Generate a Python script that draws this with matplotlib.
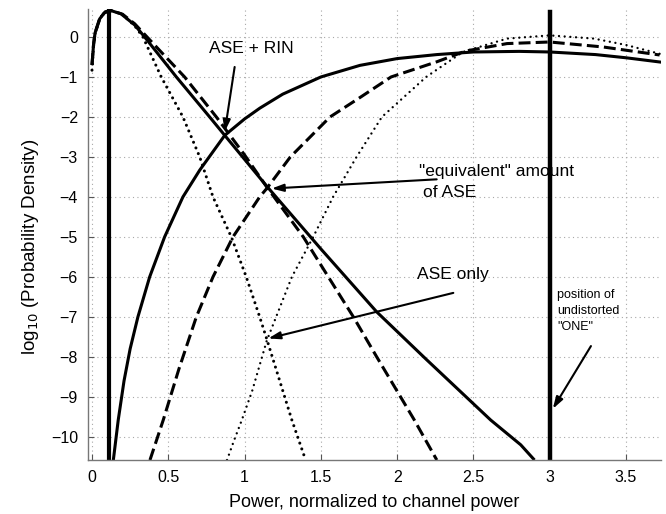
import matplotlib
matplotlib.use('Agg')
import matplotlib.pyplot as plt

plt.rcParams['font.family'] = ['Liberation Sans', 'DejaVu Sans']

# zero level ("0" symbol) curves
zero_rin_x = [0.0, 0.01, 0.02, 0.05, 0.08, 0.116, 0.19, 0.28, 0.345, 0.553, 0.771, 0.87,
              1.145, 1.5, 1.866, 2.19, 2.613, 2.81, 2.90]
zero_rin_y = [-0.7, -0.2, 0.1, 0.45, 0.6, 0.67, 0.58, 0.3, 0.0, -1.0, -2.0, -2.46,
              -3.73, -5.3, -6.875, -8.06, -9.58, -10.2, -10.58]

zero_eq_x = [0.0, 0.01, 0.02, 0.05, 0.08, 0.116, 0.2, 0.28, 0.356, 0.607, 0.815, 1.0,
             1.145, 1.385, 1.549, 1.713, 1.866, 2.108, 2.26]
zero_eq_y = [-0.7, -0.2, 0.1, 0.45, 0.6, 0.67, 0.57, 0.33, 0.02, -1.0, -2.0, -2.95,
             -3.75, -5.0, -6.0, -7.0, -8.0, -9.55, -10.58]

zero_ase_x = [0.0, 0.01, 0.02, 0.05, 0.08, 0.116, 0.2, 0.28, 0.334, 0.454, 0.596, 0.706,
              0.793, 0.913, 1.011, 1.099, 1.145, 1.31, 1.40]
zero_ase_y = [-0.83, -0.25, 0.08, 0.45, 0.62, 0.68, 0.56, 0.28, 0.0, -1.0, -2.0, -3.0,
              -4.0, -5.0, -6.0, -7.0, -7.55, -9.58, -10.58]

# one level ("1" symbol) curves
one_rin_x = [0.14, 0.172, 0.21, 0.25, 0.301, 0.378, 0.476, 0.596, 0.706, 0.87, 1.0, 1.1,
             1.25, 1.5, 1.756, 2.0, 2.26, 2.5, 2.8, 3.0, 3.3, 3.5, 3.72]
one_rin_y = [-10.58, -9.58, -8.6, -7.8, -7.0, -6.0, -5.0, -4.0, -3.33, -2.46, -2.05, -1.78,
             -1.43, -1.0, -0.71, -0.54, -0.44, -0.375, -0.36, -0.375, -0.44, -0.52, -0.625]

one_eq_x = [0.38, 0.467, 0.57, 0.684, 0.793, 0.924, 1.099, 1.145, 1.3, 1.56, 1.75, 1.96,
            2.26, 2.45, 2.72, 3.0, 3.35, 3.72]
one_eq_y = [-10.58, -9.58, -8.3, -7.0, -6.0, -5.0, -4.0, -3.79, -3.0, -2.0, -1.53, -1.0,
            -0.62, -0.35, -0.165, -0.125, -0.25, -0.45]

one_ase_x = [0.885, 0.93, 0.98, 1.05, 1.145, 1.31, 1.45, 1.58, 1.734, 1.9, 2.19, 2.43,
             2.72, 3.0, 3.29, 3.5, 3.72]
one_ase_y = [-10.58, -10.1, -9.6, -8.85, -7.6, -6.0, -5.0, -4.0, -3.0, -2.0, -1.0, -0.375,
             -0.04, 0.04, -0.04, -0.2, -0.42]

zero_pos = 0.113
one_pos = 3.0

xticks = [0, 0.5, 1, 1.5, 2, 2.5, 3, 3.5]
xtick_labels = ['0', '0.5', '1', '1.5', '2', '2.5', '3', '3.5']
yticks = list(range(-10, 1))

fig = plt.figure(figsize=(6.66, 5.14), dpi=100)
ax = fig.add_axes([0.1317, 0.105, 0.8603, 0.8775])

lw = 2.2
dash = (0, (3.9, 1.7))
dots = (0, (0.01, 2.0))

ax.plot(zero_rin_x, zero_rin_y, color='black', lw=lw, solid_capstyle='butt')
ax.plot(zero_eq_x, zero_eq_y, color='black', lw=lw, linestyle=dash)
ax.plot(zero_ase_x, zero_ase_y, color='black', lw=lw, linestyle=dots, dash_capstyle='round')

ax.plot(one_rin_x, one_rin_y, color='black', lw=lw)
ax.plot(one_eq_x, one_eq_y, color='black', lw=lw, linestyle=dash)
ax.plot(one_ase_x, one_ase_y, color='black', lw=1.7, linestyle=(0, (0.01, 2.4)),
        dash_capstyle='round')

# undistorted levels
ax.plot([zero_pos, zero_pos], [-10.7, 0.67], color='black', lw=3)
ax.plot([one_pos, one_pos], [-10.58, 0.625], color='black', lw=3.2)

ax.set_xlim(-0.028, 3.727)
ax.set_ylim(-10.58, 0.7)
ax.set_xticks(xticks)
ax.set_xticklabels(xtick_labels)
ax.set_yticks(yticks)

ax.grid(True, color='#a8a8a8', linestyle=(0, (1, 3)), lw=0.8)
ax.set_axisbelow(True)
ax.tick_params(direction='in', length=4, width=0.8, color='#555555', labelsize=11.5, pad=7)
for side in ['top', 'right']:
    ax.spines[side].set_visible(False)
for side in ['left', 'bottom']:
    ax.spines[side].set_color('#777777')
    ax.spines[side].set_linewidth(1.0)

ax.set_xlabel('Power, normalized to channel power', fontsize=13, labelpad=7)
ax.set_ylabel('log$_{10}$ (Probability Density)', fontsize=13.5)
ax.yaxis.set_label_coords(-0.082, 0.472)

arrow = dict(arrowstyle='-|>,head_length=0.7,head_width=0.22', color='black', lw=1.5,
             shrinkA=0, shrinkB=0)

ax.text(0.77, -0.29, 'ASE + RIN', fontsize=12.5, ha='left', va='center')
ax.annotate('', xy=(0.87, -2.37), xytext=(0.935, -0.75), arrowprops=arrow)

ax.text(2.14, -3.36, '"equivalent" amount', fontsize=12.5, ha='left', va='center')
ax.text(2.17, -3.88, 'of ASE', fontsize=12.5, ha='left', va='center')
ax.annotate('', xy=(1.177, -3.79), xytext=(2.259, -3.56), arrowprops=arrow)

ax.text(2.13, -5.93, 'ASE only', fontsize=12.5, ha='left', va='center')
ax.annotate('', xy=(1.155, -7.54), xytext=(2.368, -6.4), arrowprops=arrow)

ax.text(3.05, -6.3, 'position of\nundistorted\n"ONE"', fontsize=9, ha='left', va='top',
        linespacing=1.45)
ax.annotate('', xy=(3.02, -9.3), xytext=(3.27, -7.73), arrowprops=arrow)

fig.savefig('out.png', dpi=100)
